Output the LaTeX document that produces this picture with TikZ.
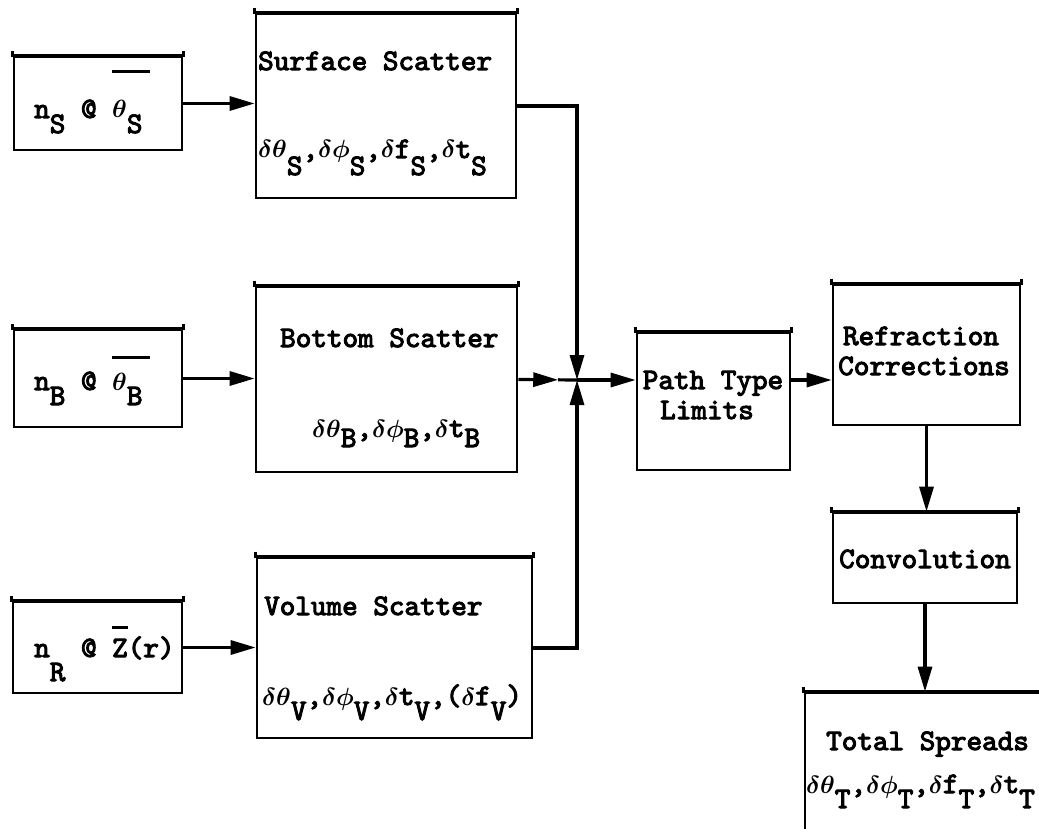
\documentclass[tikz,border=0pt]{standalone}
\usepackage{fontspec}
\newfontfamily\tw{lmmono10-regular.otf}[FakeBold=3.5]
\usetikzlibrary{arrows.meta,calc}
\newcommand\dn[2][15pt]{\lower#1\hbox{#2}}
\newcommand\ovbar[2]{\rlap{\raisebox{#1}{\rule{#2}{2.8pt}}}}
\newcommand\gr[1]{{\boldmath$#1$}}
\newcommand\topedge[1]{\draw[line width=3.5pt] ([yshift=5pt]#1.north west) -- (#1.north west) -- (#1.north east) -- ([yshift=5pt]#1.north east);}
\begin{document}
\begin{tikzpicture}[x=1pt,y=-1pt,
  blk/.style={draw,line width=2.7pt,inner sep=0pt},
  txt/.style={anchor=base west,inner sep=0pt,font=\tw\fontsize{29.7}{34}\selectfont},
  ctxt/.style={anchor=base,inner sep=0pt,font=\tw\fontsize{29.7}{34}\selectfont},
  conn/.style={line width=3.2pt},
  arr/.style={conn,-{Triangle[length=25pt,width=14pt]}}]
\useasboundingbox (0,0) rectangle (1039,829);
\clip (0,0) rectangle (1039,829);
% boxes
\node[blk,minimum width=168pt,minimum height=93pt] (inS) at (98,103.5) {};
\node[blk,minimum width=260pt,minimum height=184pt] (surf) at (386,106) {};
\node[blk,minimum width=168pt,minimum height=97pt] (inB) at (98,378.5) {};
\node[blk,minimum width=261pt,minimum height=185pt] (bot) at (386.5,379.5) {};
\node[blk,minimum width=169pt,minimum height=91pt] (inR) at (97.5,647.5) {};
\node[blk,minimum width=275pt,minimum height=180pt] (vol) at (394.5,648) {};
\node[blk,minimum width=153pt,minimum height=137pt] (path) at (713.5,401.5) {};
\node[blk,minimum width=187pt,minimum height=140pt] (refr) at (926.5,355) {};
\node[blk,minimum width=184pt,minimum height=90pt] (conv) at (925,558) {};
\node[blk,minimum width=240pt,minimum height=152pt] (total) at (925,769) {};
\topedge{inS}\topedge{surf}\topedge{inB}\topedge{bot}\topedge{inR}\topedge{vol}
\topedge{path}\topedge{refr}\topedge{conv}\topedge{total}
% texts
\node[txt] (tS) at (34,118) {n\dn{S} @ \ovbar{45pt}{38pt}\gr{\theta}\dn{S}};
\node[txt] (tB) at (34,390) {n\dn{B} @ \ovbar{31pt}{38pt}\gr{\theta}\dn{B}};
\node[txt] (tR) at (34,657) {n\dn[24pt]{R} @ \ovbar{28pt}{16pt}Z(r)};
\node[txt] (surf1) at (258,70) {Surface Scatter};
\node[txt] (surf2) at (258,158) {\gr{\delta\theta}\dn[17pt]{S},\gr{\delta\phi}\dn[17pt]{S},\gr{\delta}f\dn[17pt]{S},\gr{\delta}t\dn[17pt]{S}};
\node[txt] (bot1) at (280,347) {Bottom Scatter};
\node[txt] (bot2) at (312,437) {\gr{\delta\theta}\dn[10pt]{B},\gr{\delta\phi}\dn[10pt]{B},\gr{\delta}t\dn[10pt]{B}};
\node[txt] (vol1) at (264,615) {Volume Scatter};
\node[txt] (vol2) at (262,705) {\gr{\delta\theta}\dn{V},\gr{\delta\phi}\dn{V},\gr{\delta}t\dn{V},(\gr{\delta}f\dn{V})};
\node[ctxt] (path1) at (713,389) {Path Type};
\node[ctxt] (path2) at (707,419) {Limits};
\node[ctxt] (refr1) at (921,345) {Refraction};
\node[ctxt] (refr2) at (924,375) {Corrections};
\node[ctxt] (conv1) at (925,568) {Convolution};
\node[txt] (tot1) at (826,750) {Total Spreads};
\node[txt] (tot2) at (806,793) {\gr{\delta\theta}\dn{T},\gr{\delta\phi}\dn{T},\gr{\delta}f\dn{T},\gr{\delta}t\dn{T}};
% connectors
\coordinate (J) at (577,380);
\coordinate (M) at ($(bot.east)!0.68!(J)$);
\draw[arr] (inS.east) -- (surf.west |- inS.east);
\draw[arr] (inB.east) -- (bot.west |- inB.east);
\draw[arr] (inR.east) -- (vol.west |- inR.east);
\draw[arr] (surf.east) -| (J);
\draw[arr] (vol.east) -| (J);
\draw[arr] (bot.east) -- (M);
\draw[conn] (M) -- (J);
\draw[arr] (J) -- (path.west |- J);
\draw[arr] (path.east |- J) -- (refr.west |- J);
\draw[arr] (refr.south) -- (refr.south |- conv.north);
\draw[arr] (conv.south) -- (conv.south |- total.north);
\end{tikzpicture}
\end{document}
